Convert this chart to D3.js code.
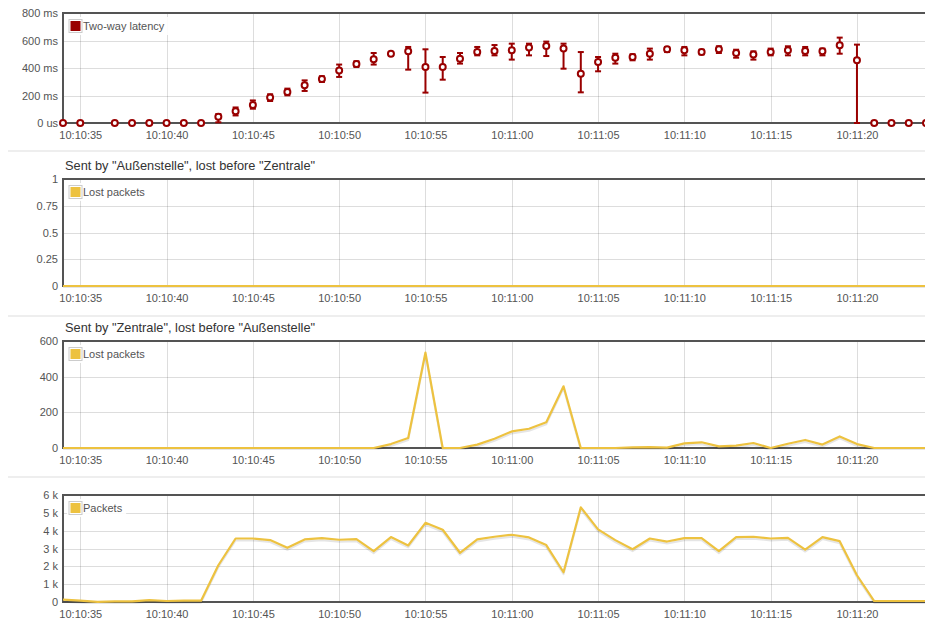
<!DOCTYPE html>
<html>
<head>
<meta charset="utf-8">
<script src="https://cdn.jsdelivr.net/npm/d3@7"></script>
<style>
  body { margin: 0; background: #fff; }
  svg { display: block; font-family: "Liberation Sans", Arial, sans-serif; }
</style>
</head>
<body>
<svg id="chart" width="925" height="620"></svg>
<script>
// One sample per second, starting at this time of day.
const startTime = "10:10:34";

// Two-way latency in ms (null = no measurement), with min / max per second.
const latencyMs = [0, 0, null, 0, 0, 0, 0, 0, 0, 46,
  85, 131, 185, 225, 274, 320, 381, 429, 463, 504,
  521, 407, 407, 468, 516, 524, 529, 550, 560, 541,
  359, 443, 475, 480, 504, 536, 529, 516, 536, 509,
  499, 516, 529, 524, 521, 565, 456, 0, 0, 0, 0];
const latencyMinMs = [0, 0, null, 0, 0, 0, 0, 0, 0, 5,
  55, 104, 160, 201, 233, 298, 335, 407, 425, 493,
  388, 221, 315, 432, 492, 492, 461, 492, 487, 395,
  223, 376, 432, 456, 461, 516, 492, 499, 509, 475,
  461, 492, 492, 492, 492, 504, 0, 0, 0, 0, 0];
const latencyMaxMs = [0, 0, null, 0, 0, 0, 0, 0, 0, 65,
  113, 164, 209, 250, 310, 340, 425, 449, 509, 515,
  553, 536, 480, 509, 553, 567, 577, 577, 592, 577,
  516, 480, 504, 500, 541, 553, 553, 533, 558, 533,
  521, 541, 558, 553, 541, 621, 570, 0, 0, 0, 0];

// Packets sent by "Außenstelle" and lost before "Zentrale".
const lostBeforeZentrale = [0, 0, 0, 0, 0, 0, 0, 0, 0, 0,
  0, 0, 0, 0, 0, 0, 0, 0, 0, 0,
  0, 0, 0, 0, 0, 0, 0, 0, 0, 0,
  0, 0, 0, 0, 0, 0, 0, 0, 0, 0,
  0, 0, 0, 0, 0, 0, 0, 0, 0, 0, 0];

// Packets sent by "Zentrale" and lost before "Außenstelle".
const lostBeforeAussenstelle = [0, 0, 0, 0, 0, 0, 0, 0, 0, 0,
  0, 0, 0, 0, 0, 0, 0, 0, 0, 22,
  56, 535, 0, 0, 19, 52, 93, 108, 144, 346,
  0, 0, 0, 3, 5, 2, 26, 32, 9, 13,
  28, 0, 24, 45, 19, 65, 22, 0, 0, 0, 0];

// Total packets per second.
const packetCount = [130, 75, 10, 40, 40, 110, 55, 75, 75, 2060,
  3560, 3560, 3470, 3040, 3510, 3580, 3490, 3525, 2850, 3640,
  3170, 4440, 4050, 2760, 3510, 3660, 3770, 3620, 3190, 1670,
  5310, 4070, 3470, 2960, 3560, 3390, 3580, 3580, 2850, 3640,
  3660, 3560, 3600, 2940, 3640, 3410, 1500, 55, 55, 55, 55];

// Y axis ticks and their labels per panel.
const latencyTicks = [0, 200, 400, 600, 800];
const latencyTickLabels = ["0 us", "200 ms", "400 ms", "600 ms", "800 ms"];
const lossATicks = [0, 0.25, 0.5, 0.75, 1];
const lossATickLabels = ["0", "0.25", "0.5", "0.75", "1"];
const lossBTicks = [0, 200, 400, 600];
const lossBTickLabels = ["0", "200", "400", "600"];
const packetTicks = [0, 1000, 2000, 3000, 4000, 5000, 6000];
const packetTickLabels = ["0", "1 k", "2 k", "3 k", "4 k", "5 k", "6 k"];

const panelTitles = [null, 'Sent by "Außenstelle", lost before "Zentrale"',
  'Sent by "Zentrale", lost before "Außenstelle"', null];
const legendLabels = ["Two-way latency", "Lost packets", "Lost packets", "Packets"];

const RED = "#990000";
const GOLD = "#edc240";
const AXIS = "#545454";
const GRID = "rgba(84,84,84,0.2)";

const svg = d3.select("#chart");
const t0 = d3.timeParse("%H:%M:%S")(startTime);
const times = latencyMs.map((_, i) => d3.timeSecond.offset(t0, i));

const left = 63, right = 926;
const x = d3.scaleTime()
  .domain([t0, d3.timeSecond.offset(t0, times.length - 1)])
  .range([left, right]);

// Thin rules between the stacked panels
[151, 316, 477].forEach(yy => {
  svg.append("rect").attr("x", 8).attr("y", yy - 1).attr("width", 925).attr("height", 2)
    .attr("fill", "#eeeeee");
});

function drawPanel(idx, top, bottom, yMax, ticks, tickLabels) {
  const y = d3.scaleLinear().domain([0, yMax]).range([bottom, top]);
  const g = svg.append("g");

  // grid
  const xTicks = x.ticks(d3.timeSecond.every(5));
  g.append("g").selectAll("line").data(xTicks).join("line")
    .attr("x1", d => Math.round(x(d)) + 0.5).attr("x2", d => Math.round(x(d)) + 0.5)
    .attr("y1", top).attr("y2", bottom)
    .attr("stroke", GRID).attr("stroke-width", 1);
  g.append("g").selectAll("line").data(ticks.slice(1, -1)).join("line")
    .attr("x1", left).attr("x2", right + 2)
    .attr("y1", d => Math.round(y(d)) + 0.5).attr("y2", d => Math.round(y(d)) + 0.5)
    .attr("stroke", GRID).attr("stroke-width", 1);

  // x axis labels
  const xAxis = d3.axisBottom(x).tickValues(xTicks)
    .tickFormat(d3.timeFormat("%H:%M:%S")).tickSize(0).tickPadding(8);
  const xa = g.append("g").attr("transform", `translate(0,${bottom})`).call(xAxis);
  xa.select(".domain").remove();
  xa.selectAll("text").attr("fill", AXIS).style("font-size", "11px")
    .style("font-family", '"Liberation Sans", Arial, sans-serif');

  // y axis labels
  const yAxis = d3.axisLeft(y).tickValues(ticks)
    .tickFormat((d, i) => tickLabels[i]).tickSize(0).tickPadding(5);
  const ya = g.append("g").attr("transform", `translate(${left},0)`).call(yAxis);
  ya.select(".domain").remove();
  ya.selectAll("text").attr("fill", AXIS).style("font-size", "11px")
    .style("font-family", '"Liberation Sans", Arial, sans-serif');

  // title
  if (panelTitles[idx]) {
    g.append("text").attr("x", 65).attr("y", top - 9.5)
      .attr("fill", "#333").style("font-size", "12.8px")
      .text(panelTitles[idx]);
  }
  return { g, y, top, bottom };
}

function drawBorder(g, top, bottom) {
  g.append("path")
    .attr("d", `M${right + 4},${top}H${left}V${bottom}H${right + 4}`)
    .attr("fill", "none").attr("stroke", AXIS).attr("stroke-width", 2);
}

function drawLegend(g, top, label, color) {
  const lg = g.append("g").attr("transform", `translate(${left + 4},${top + 4})`);
  const bg = lg.append("rect").attr("x", 0).attr("y", 0).attr("height", 18)
    .attr("fill", "#fff").attr("opacity", 0.9);
  lg.append("rect").attr("x", 2).attr("y", 2.5).attr("width", 13).attr("height", 13)
    .attr("fill", "#fff").attr("stroke", "#ccc").attr("stroke-width", 1);
  lg.append("rect").attr("x", 3.5).attr("y", 4).attr("width", 10).attr("height", 10)
    .attr("fill", color);
  const t = lg.append("text").attr("x", 16).attr("y", 13)
    .attr("fill", AXIS).style("font-size", "11px").text(label);
  bg.attr("width", 16 + t.node().getComputedTextLength() + 4);
}

function drawLine(g, y, values, color) {
  const line = d3.line().defined(d => d != null)
    .x((d, i) => x(times[i])).y(d => y(d));
  const clipId = "clip" + Math.round(y.range()[1]);
  g.append("clipPath").attr("id", clipId).append("rect")
    .attr("x", left).attr("y", y.range()[1] - 2).attr("width", right - left + 4)
    .attr("height", y.range()[0] - y.range()[1] + 4);
  const lg = g.append("g").attr("clip-path", `url(#${clipId})`);
  // soft shadow under the line
  lg.append("path").datum(values).attr("d", line)
    .attr("transform", "translate(0,2)")
    .attr("fill", "none").attr("stroke", "rgba(0,0,0,0.1)").attr("stroke-width", 2)
    .attr("stroke-linejoin", "round");
  lg.append("path").datum(values).attr("d", line)
    .attr("fill", "none").attr("stroke", color).attr("stroke-width", 2.2)
    .attr("stroke-linejoin", "round");
}

// Panel 1: latency with min/max error bars
{
  const p = drawPanel(0, 13, 123, 800, latencyTicks, latencyTickLabels);
  drawBorder(p.g, p.top, p.bottom);
  const pts = latencyMs.map((v, i) => ({ t: times[i], v, lo: latencyMinMs[i], hi: latencyMaxMs[i] }))
    .filter(d => d.v != null);
  const bars = pts.filter(d => d.hi - d.lo > 0);
  const eb = p.g.append("g").attr("stroke", RED).attr("stroke-width", 2);
  eb.selectAll("line.v").data(bars).join("line").attr("class", "v")
    .attr("x1", d => x(d.t)).attr("x2", d => x(d.t))
    .attr("y1", d => p.y(d.lo)).attr("y2", d => p.y(d.hi));
  eb.selectAll("line.lo").data(bars).join("line").attr("class", "lo")
    .attr("x1", d => x(d.t) - 3).attr("x2", d => x(d.t) + 3)
    .attr("y1", d => p.y(d.lo)).attr("y2", d => p.y(d.lo));
  eb.selectAll("line.hi").data(bars).join("line").attr("class", "hi")
    .attr("x1", d => x(d.t) - 3).attr("x2", d => x(d.t) + 3)
    .attr("y1", d => p.y(d.hi)).attr("y2", d => p.y(d.hi));
  p.g.append("g").selectAll("circle").data(pts).join("circle")
    .attr("cx", d => x(d.t)).attr("cy", d => p.y(d.v)).attr("r", 3)
    .attr("fill", "#fff").attr("stroke", RED).attr("stroke-width", 2);
  drawLegend(p.g, p.top, legendLabels[0], RED);
}

// Panel 2: lost before "Zentrale"
{
  const p = drawPanel(1, 179, 286, 1, lossATicks, lossATickLabels);
  drawBorder(p.g, p.top, p.bottom);
  drawLine(p.g, p.y, lostBeforeZentrale, GOLD);
  drawLegend(p.g, p.top, legendLabels[1], GOLD);
}

// Panel 3: lost before "Außenstelle"
{
  const p = drawPanel(2, 341, 448, 600, lossBTicks, lossBTickLabels);
  drawBorder(p.g, p.top, p.bottom);
  drawLine(p.g, p.y, lostBeforeAussenstelle, GOLD);
  drawLegend(p.g, p.top, legendLabels[2], GOLD);
}

// Panel 4: packets per second
{
  const p = drawPanel(3, 495, 602, 6000, packetTicks, packetTickLabels);
  drawBorder(p.g, p.top, p.bottom);
  drawLine(p.g, p.y, packetCount, GOLD);
  drawLegend(p.g, p.top, legendLabels[3], GOLD);
}
</script>
</body>
</html>
